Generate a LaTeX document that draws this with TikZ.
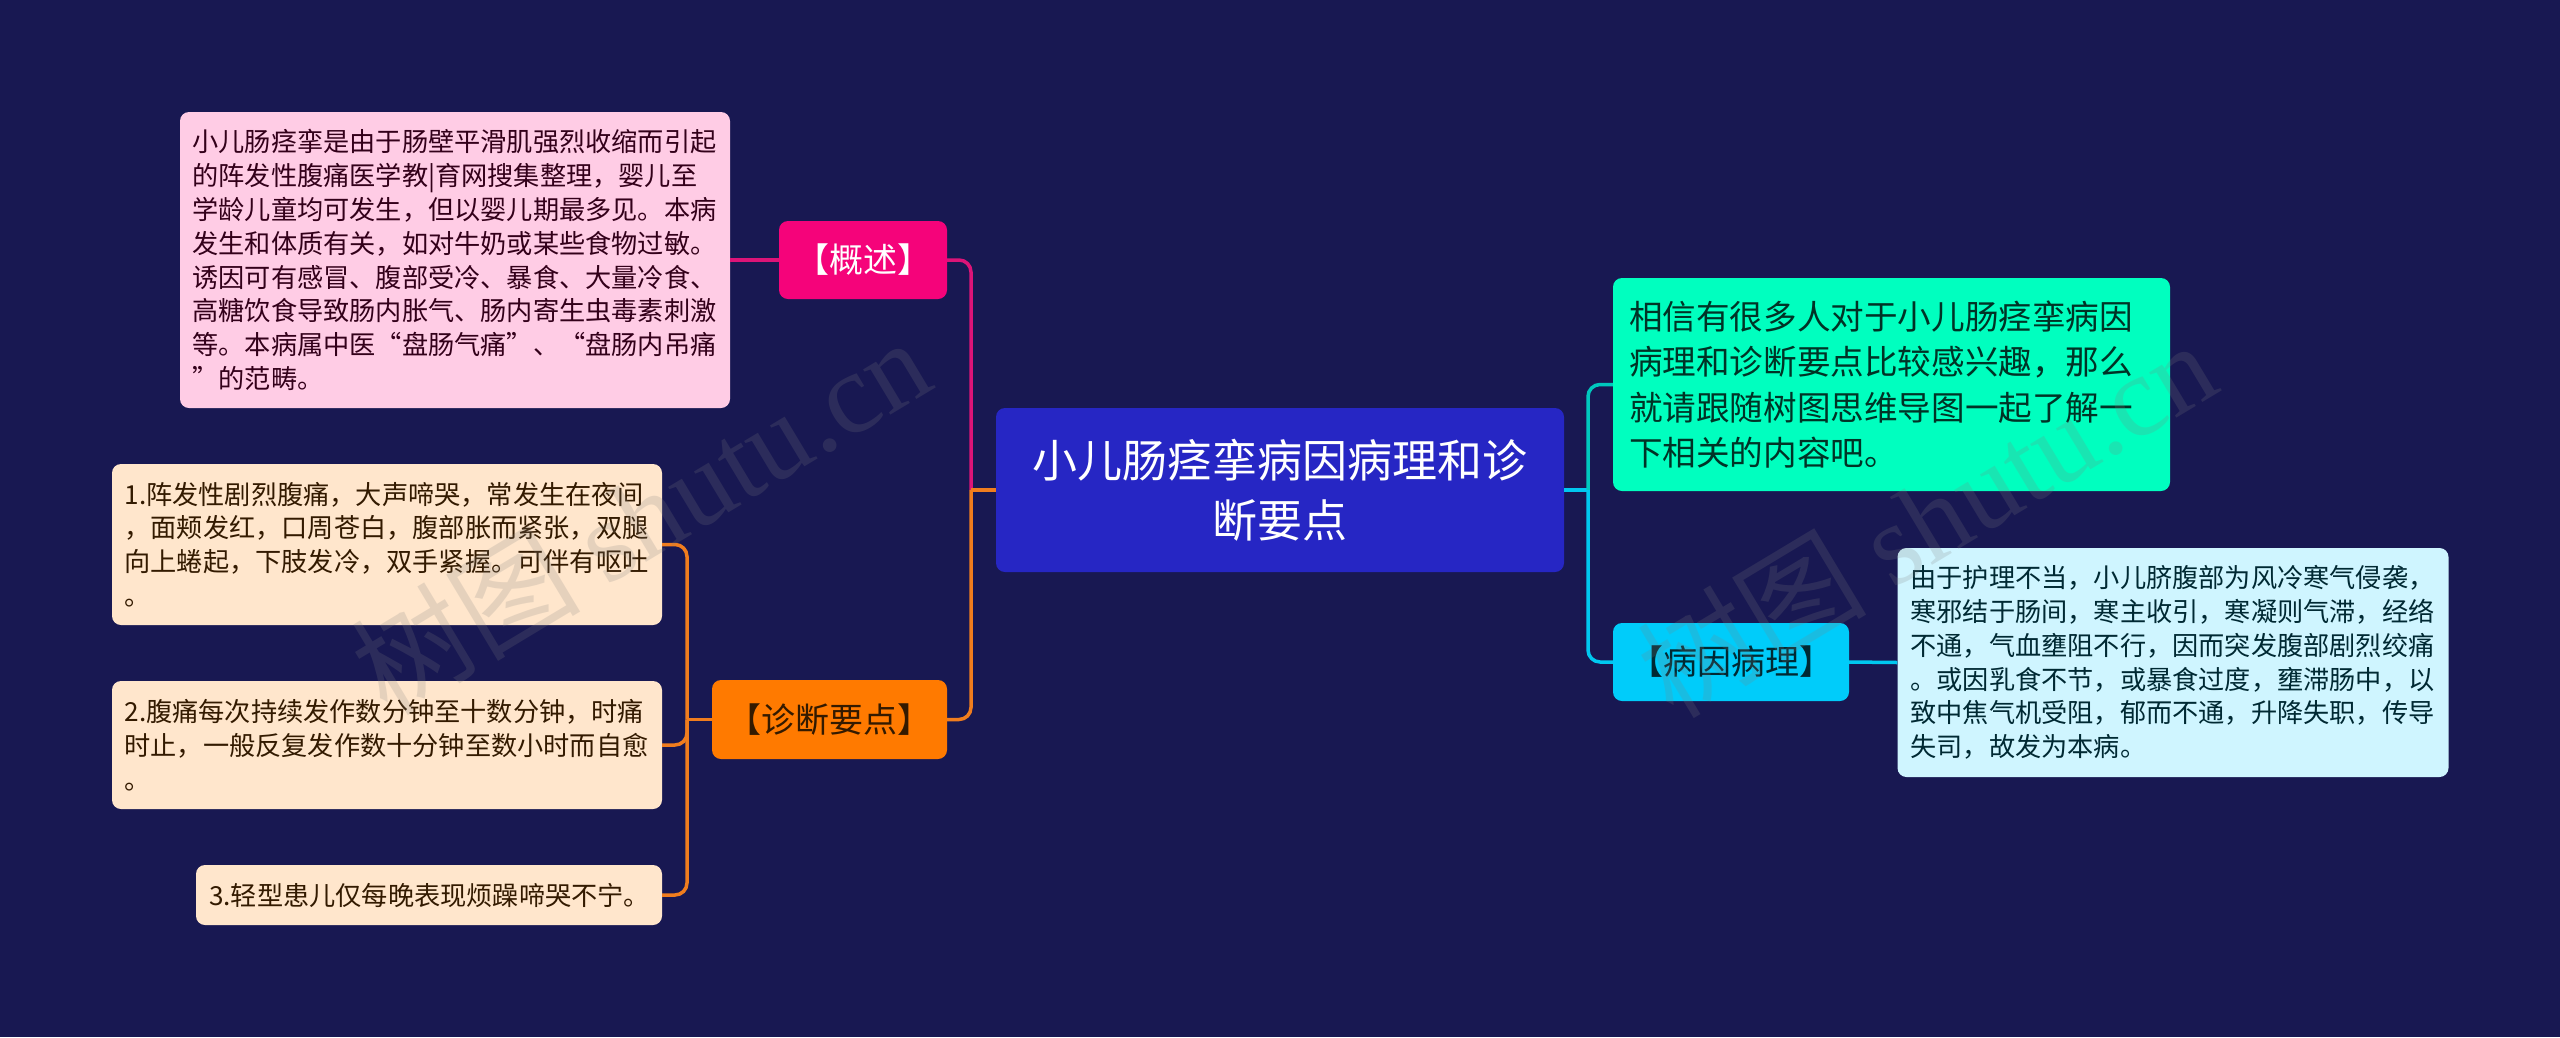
\documentclass[tikz,border=0pt]{standalone}
\usepackage{fontspec}
\setmainfont{Noto Sans CJK SC}
\newfontfamily\markfont{Liberation Serif}
\begin{document}
\begin{tikzpicture}[x=1pt,y=-1pt,
	boxnode/.style={rounded corners=9pt, inner sep=0pt, align=left},
	smalltext/.style={font=\fontsize{26.2pt}{33.8pt}\selectfont},
	midtext/.style={font=\fontsize{34pt}{42pt}\selectfont},
	wire/.style={line width=3.5pt, rounded corners=12pt},
	stamp/.style={font=\fontsize{115pt}{115pt}\selectfont, rotate=31, text=custcol_80_80_80, text opacity=0.2}]
	\definecolor{custcol_18_18_52}{RGB}{24, 24, 82}
	\definecolor{custcol_80_80_80}{RGB}{128, 128, 128}
	\definecolor{custcol_26_26_c4}{RGB}{38, 38, 196}
	\definecolor{custcol_ff_cc_e5}{RGB}{255, 204, 229}
	\definecolor{custcol_f5_03_7a}{RGB}{245, 3, 122}
	\definecolor{custcol_ff_7a_00}{RGB}{255, 122, 0}
	\definecolor{custcol_ff_e6_cc}{RGB}{255, 230, 204}
	\definecolor{custcol_00_ff_bf}{RGB}{0, 255, 191}
	\definecolor{custcol_00_cc_fa}{RGB}{0, 204, 250}
	\definecolor{custcol_cf_f5_ff}{RGB}{207, 245, 255}
	\definecolor{custcol_dc_14_78}{RGB}{220, 20, 120}
	\definecolor{custcol_f0_7d_1e}{RGB}{240, 125, 30}
	\definecolor{custcol_00_c8_be}{RGB}{0, 200, 190}
	\definecolor{custcol_00_c8_f0}{RGB}{0, 200, 240}
	\definecolor{custcol_33_00_1a}{RGB}{51, 0, 26}
	\definecolor{custcol_33_1a_00}{RGB}{51, 26, 0}
	\definecolor{custcol_00_33_26}{RGB}{0, 51, 38}
	\definecolor{custcol_00_29_33}{RGB}{0, 41, 51}
	\fill [custcol_18_18_52]  (0.0,0.0) rectangle (2560.0,1037.0);
	\useasboundingbox (0.0,0.0) rectangle (2560.0,1037.0);
	\node[boxnode, fill=custcol_26_26_c4, text=white, align=center, font=\fontsize{45pt}{60pt}\selectfont, minimum width=568pt, minimum height=164pt] (root) at (1280.0,490.0) {小儿肠痉挛病因病理和诊\\断要点};
	\node[boxnode, smalltext, fill=custcol_ff_cc_e5, text=custcol_33_00_1a, text width=525pt, minimum width=550pt, minimum height=296pt] (summarytext) at (455.0,260.0) {小儿肠痉挛是由于肠壁平滑肌强烈收缩而引起\\的阵发性腹痛医学教|育网搜集整理，婴儿至\\学龄儿童均可发生，但以婴儿期最多见。本病\\发生和体质有关，如对牛奶或某些食物过敏。\\诱因可有感冒、腹部受冷、暴食、大量冷食、\\高糖饮食导致肠内胀气、肠内寄生虫毒素刺激\\等。本病属中医“盘肠气痛”、“盘肠内吊痛\\”的范畴。};
	\node[boxnode, midtext, fill=custcol_f5_03_7a, text=white, align=center, minimum width=168pt, minimum height=78pt] (summary) at (863.0,260.0) {【概述】};
	\node[boxnode, midtext, fill=custcol_ff_7a_00, text=custcol_33_1a_00, align=center, minimum width=235pt, minimum height=79pt] (diagnosis) at (829.5,719.5) {【诊断要点】};
	\node[boxnode, smalltext, fill=custcol_ff_e6_cc, text=custcol_33_1a_00, text width=525pt, minimum width=550pt, minimum height=161pt] (pointone) at (387.0,544.5) {1.阵发性剧烈腹痛，大声啼哭，常发生在夜间\\，面颊发红，口周苍白，腹部胀而紧张，双腿\\向上蜷起，下肢发冷，双手紧握。可伴有呕吐\\。};
	\node[boxnode, smalltext, fill=custcol_ff_e6_cc, text=custcol_33_1a_00, text width=525pt, minimum width=550pt, minimum height=128pt] (pointtwo) at (387.0,745.0) {2.腹痛每次持续发作数分钟至十数分钟，时痛\\时止，一般反复发作数十分钟至数小时而自愈\\。};
	\node[boxnode, smalltext, fill=custcol_ff_e6_cc, text=custcol_33_1a_00, text width=440pt, minimum width=466pt, minimum height=60pt] (pointthree) at (429.0,895.0) {3.轻型患儿仅每晚表现烦躁啼哭不宁。};
	\node[boxnode, fill=custcol_00_ff_bf, text=custcol_00_33_26, font=\fontsize{33.6pt}{45.3pt}\selectfont, text width=525pt, minimum width=557pt, minimum height=213pt] (intro) at (1891.5,384.5) {相信有很多人对于小儿肠痉挛病因\\病理和诊断要点比较感兴趣，那么\\就请跟随树图思维导图一起了解一\\下相关的内容吧。};
	\node[boxnode, midtext, fill=custcol_00_cc_fa, text=custcol_00_29_33, align=center, minimum width=236pt, minimum height=78pt] (cause) at (1731.0,662.0) {【病因病理】};
	\node[boxnode, smalltext, fill=custcol_cf_f5_ff, text=custcol_00_29_33, text width=525pt, minimum width=551pt, minimum height=229pt] (causetext) at (2173.0,662.5) {由于护理不当，小儿脐腹部为风冷寒气侵袭，\\寒邪结于肠间，寒主收引，寒凝则气滞，经络\\不通，气血壅阻不行，因而突发腹部剧烈绞痛\\。或因乳食不节，或暴食过度，壅滞肠中，以\\致中焦气机受阻，郁而不通，升降失职，传导\\失司，故发为本病。};
	\coordinate (forkleft) at (971.0,490.0);
	\coordinate (forkright) at (1588.0,490.0);
	\coordinate (forkpoints) at (687.0,719.5);
	\draw [wire, custcol_dc_14_78]  (summary.east) -| (forkleft) ;
	\draw [wire, custcol_f0_7d_1e]  (diagnosis.east) -| (forkleft) ;
	\draw [wire, custcol_f0_7d_1e]  (root.west) -- (forkleft) ;
	\draw [wire, custcol_dc_14_78]  (summarytext.east) -- (summary.west) ;
	\draw [wire, custcol_f0_7d_1e]  (diagnosis.west) -- (forkpoints) ;
	\draw [wire, custcol_f0_7d_1e]  (pointone.east) -| (forkpoints) ;
	\draw [wire, custcol_f0_7d_1e]  (pointtwo.east) -| (forkpoints) ;
	\draw [wire, custcol_f0_7d_1e]  (pointthree.east) -| (forkpoints) ;
	\draw [wire, custcol_00_c8_f0]  (root.east) -- (forkright) ;
	\draw [wire, custcol_00_c8_be]  (intro.west) -| (forkright) ;
	\draw [wire, custcol_00_c8_f0]  (cause.west) -| (forkright) ;
	\draw [wire, custcol_00_c8_f0]  (cause.east) -- (causetext.west) ;
	\node[stamp] (stampleft) at (640.0,515.0) {树图 {\markfont shutu.cn}};
	\node[stamp] (stampright) at (1926.0,518.0) {树图 {\markfont shutu.cn}};
\end{tikzpicture}
\end{document}
